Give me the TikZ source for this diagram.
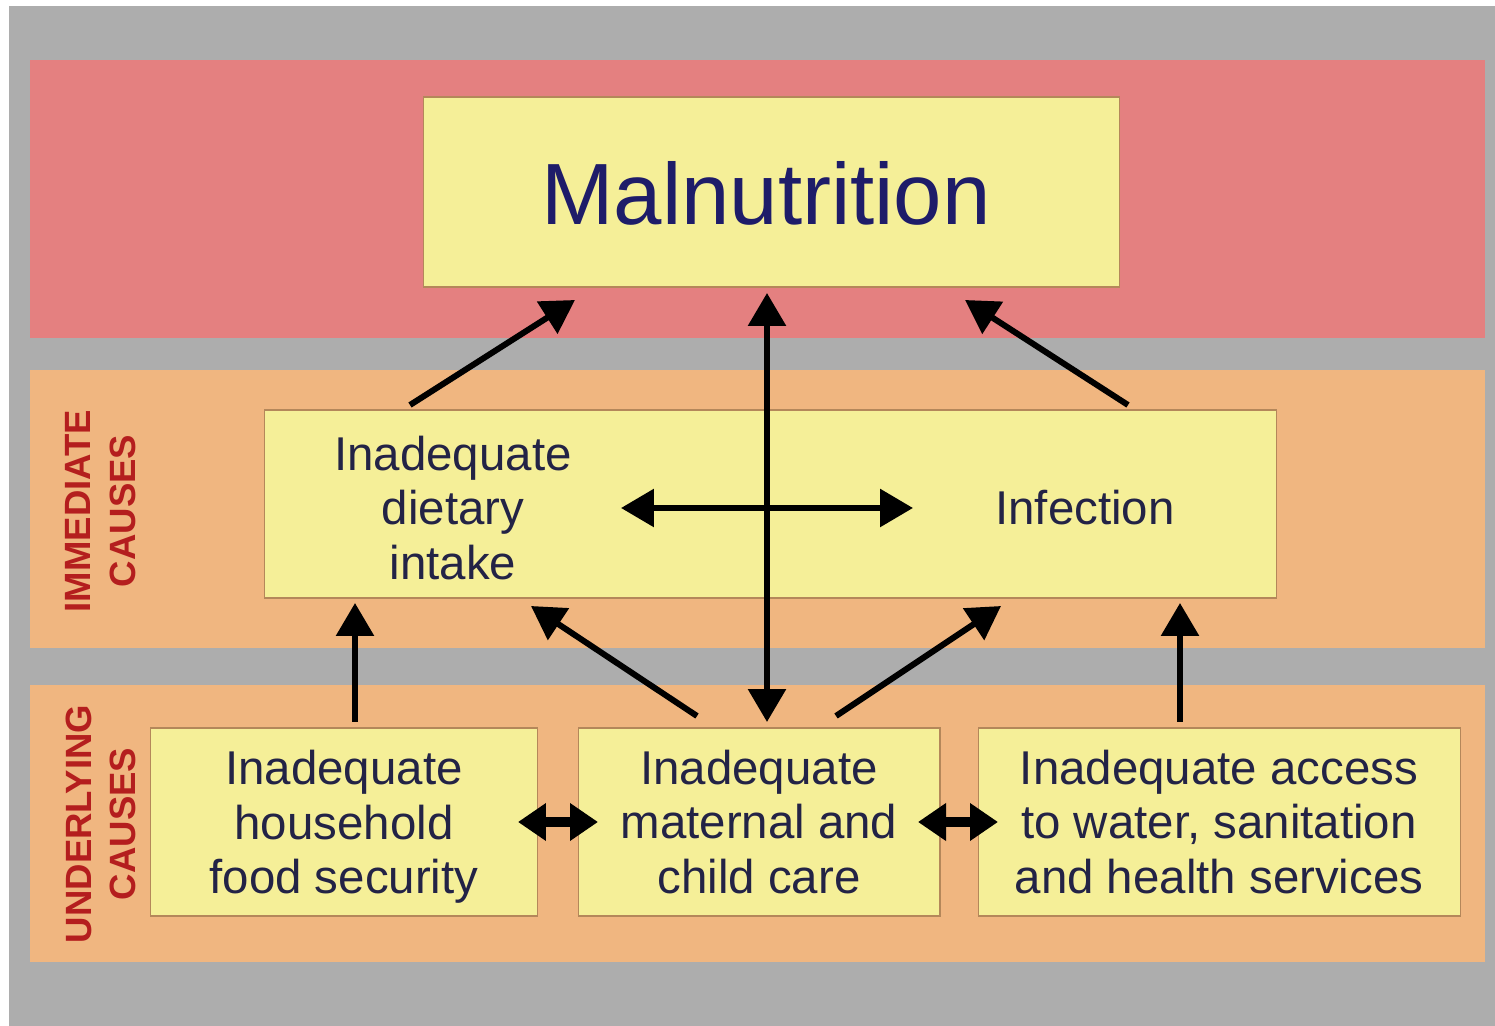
\documentclass[tikz,border=0pt]{standalone}
\usepackage{fontspec}
\setmainfont{Liberation Sans}
\usetikzlibrary{arrows.meta}
\definecolor{bggray}{RGB}{173,173,173}
\definecolor{bandred}{RGB}{228,128,128}
\definecolor{bandorange}{RGB}{240,182,128}
\definecolor{boxyellow}{RGB}{245,239,152}
\definecolor{boxedge}{RGB}{180,135,90}
\definecolor{titlenavy}{RGB}{30,28,105}
\definecolor{textnavy}{RGB}{35,35,70}
\definecolor{labelred}{RGB}{180,30,30}
\tikzset{
  box/.style={draw=boxedge, line width=0.6pt, fill=boxyellow, inner sep=0pt},
  boxtext/.style={font=\fontsize{27}{31}\selectfont, text=textnavy, align=center, inner sep=0pt},
  sidelabel/.style={font=\fontsize{20.8}{25.5}\selectfont\bfseries, text=labelred, align=center, rotate=90, inner sep=0pt},
  bigarrow/.style={line width=0.12cm, -{Triangle[length=0.66cm,width=0.74cm]}},
  bigdouble/.style={line width=0.12cm, {Triangle[length=0.66cm,width=0.74cm]}-{Triangle[length=0.66cm,width=0.74cm]}},
  smalldouble/.style={line width=0.2cm, {Triangle[length=0.56cm,width=0.72cm]}-{Triangle[length=0.56cm,width=0.72cm]}}
}
\begin{document}
\begin{tikzpicture}[x=0.02cm, y=-0.02cm]
\useasboundingbox (0,0) rectangle (1495,1026);
\fill[white] (0,0) rectangle (1495,1026);
\fill[bggray] (9,6) rectangle (1495,1026);
\fill[bandred] (30,60) rectangle (1485,338);
\fill[bandorange] (30,370) rectangle (1485,648);
\fill[bandorange] (30,685) rectangle (1485,962);

% side labels
\node[sidelabel] (lblimm) at (101,511) {IMMEDIATE\\CAUSES};
\node[sidelabel] (lblund) at (101,824) {UNDERLYING\\CAUSES};

% boxes
\node[box, minimum width=13.94cm, minimum height=3.8cm] (mal) at (771.5,192) {};
\node[font=\fontsize{49.5}{55}\selectfont, text=titlenavy, inner sep=0pt] (maltext) at (766,193) {Malnutrition};

\node[box, minimum width=20.26cm, minimum height=3.76cm] (imm) at (770.5,504) {};
\node[boxtext] (diet) at (453,508) {Inadequate\\dietary\\intake};
\node[boxtext] (inf) at (1085,508) {Infection};

\node[box, minimum width=7.76cm, minimum height=3.76cm] (u1) at (344,822) {};
\node[boxtext] (u1t) at (344,827) {Inadequate\\household\\food security};
\node[box, minimum width=7.24cm, minimum height=3.76cm] (u2) at (759,822) {};
\node[boxtext] (u2t) at (759,822) {Inadequate\\maternal and\\child care};
\node[box, minimum width=9.66cm, minimum height=3.76cm] (u3) at (1219.5,822) {};
\node[boxtext] (u3t) at (1219,822) {Inadequate access\\to water, sanitation\\and health services};

% arrow endpoints
\coordinate (a1s) at (410,405);
\coordinate (a1e) at (575,300);
\coordinate (a2s) at (1128,405);
\coordinate (a2e) at (965,300);
\coordinate (vtop) at (767,293);
\coordinate (vbot) at (767,722);
\coordinate (hl) at (621,508);
\coordinate (hr) at (913,508);
\coordinate (b1s) at (355,722);
\coordinate (b1e) at (355,603);
\coordinate (b2s) at (697,716);
\coordinate (b2e) at (531,606);
\coordinate (b3s) at (836,716);
\coordinate (b3e) at (1001,606);
\coordinate (b4s) at (1180,722);
\coordinate (b4e) at (1180,603);
\coordinate (s1l) at (518,822);
\coordinate (s1r) at (598,822);
\coordinate (s2l) at (918,822);
\coordinate (s2r) at (998,822);

\draw[bigarrow] (a1s) -- (a1e);
\draw[bigarrow] (a2s) -- (a2e);
\draw[bigdouble] (vtop) -- (vbot);
\draw[bigdouble] (hl) -- (hr);
\draw[bigarrow] (b1s) -- (b1e);
\draw[bigarrow] (b2s) -- (b2e);
\draw[bigarrow] (b3s) -- (b3e);
\draw[bigarrow] (b4s) -- (b4e);
\draw[smalldouble] (s1l) -- (s1r);
\draw[smalldouble] (s2l) -- (s2r);
\end{tikzpicture}
\end{document}
